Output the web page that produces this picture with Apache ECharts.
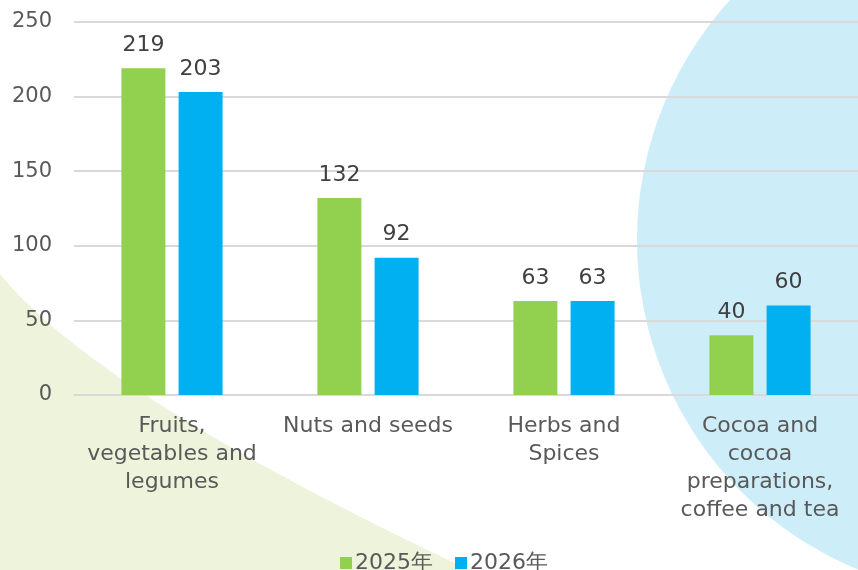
<!DOCTYPE html>
<html>
<head>
<meta charset="utf-8">
<script src="https://cdn.jsdelivr.net/npm/echarts@6/dist/echarts.min.js"></script>
<style>
html,body{margin:0;padding:0;background:#fff;}
#chart{width:858px;height:570px;}
</style>
</head>
<body>
<div id="chart"></div>
<script>
const categories = ["Fruits,\nvegetables and\nlegumes", "Nuts and seeds", "Herbs and\nSpices", "Cocoa and\ncocoa\npreparations,\ncoffee and tea"];
const seriesNames = ["2025年", "2026年"];
const values2025 = [219, 132, 63, 40];
const values2026 = [203, 92, 63, 60];
const yTicks = { min: 0, max: 250, interval: 50 };

const chart = echarts.init(document.getElementById('chart'), null, { renderer: 'canvas' });
const textColor = '#595959';
const catFont = '"DejaVu Sans", "Open Sans", sans-serif';

// decorative background curve (quadratic bezier sampled into a polygon)
function curvePoly(p0, p1, p2, n) {
  const pts = [];
  for (let i = 0; i <= n; i++) {
    const t = i / n, u = 1 - t;
    pts.push([u * u * p0[0] + 2 * u * t * p1[0] + t * t * p2[0],
              u * u * p0[1] + 2 * u * t * p1[1] + t * t * p2[1]]);
  }
  pts.push([0, 575]);
  return pts;
}

const option = {
  animation: false,
  backgroundColor: '#ffffff',
  graphic: [
    {
      type: 'polygon', z: -10, silent: true,
      shape: { points: curvePoly([0, 274], [100, 397], [480, 575], 60) },
      style: { fill: '#EEF4DB' }
    },
    {
      type: 'circle', z: -10, silent: true,
      shape: { cx: 993, cy: 240, r: 356 },
      style: { fill: '#CDEDF9' }
    }
  ],
  grid: { left: 74, right: 0, top: 22, bottom: 175, containLabel: false },
  legend: {
    data: seriesNames,
    top: 547,
    left: 335,
    itemWidth: 12,
    itemHeight: 12,
    itemGap: 22,
    icon: 'rect',
    textStyle: { color: textColor, fontSize: 22, fontFamily: catFont, padding: [0, 0, 0, -2] }
  },
  xAxis: {
    type: 'category',
    data: categories,
    axisLine: { show: true, lineStyle: { color: '#D9D9D9', width: 2 } },
    axisTick: { show: false },
    axisLabel: { color: textColor, fontSize: 22, fontFamily: catFont, lineHeight: 28, margin: 17, interval: 0 }
  },
  yAxis: {
    type: 'value',
    min: yTicks.min, max: yTicks.max, interval: yTicks.interval,
    axisLine: { show: false },
    axisTick: { show: false },
    splitLine: { lineStyle: { color: '#D9D9D9', width: 2 } },
    axisLabel: { color: textColor, fontSize: 21, fontFamily: catFont, margin: 22 }
  },
  series: [
    {
      name: seriesNames[0], type: 'bar', data: values2025,
      barWidth: 44, barGap: '30%',
      itemStyle: { color: '#92D050' },
      label: { show: true, position: 'top', distance: 12, color: '#404040', fontSize: 22, fontFamily: catFont }
    },
    {
      name: seriesNames[1], type: 'bar', data: values2026,
      barWidth: 44,
      itemStyle: { color: '#00B0F0' },
      label: { show: true, position: 'top', distance: 12, color: '#404040', fontSize: 22, fontFamily: catFont }
    }
  ]
};
chart.setOption(option);
</script>
</body>
</html>
